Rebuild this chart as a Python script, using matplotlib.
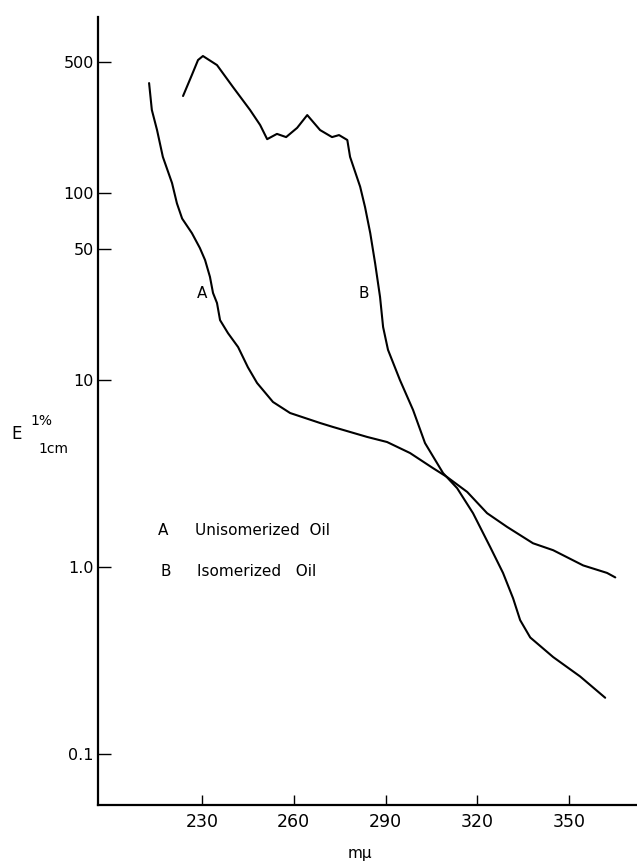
import matplotlib
matplotlib.use("Agg")
import matplotlib.pyplot as plt

# Curve A: Unisomerized oil
wl_a = [212.7, 213.6, 215.3, 217.2, 220.2, 221.8, 223.5, 226.7, 229.3, 231.0, 232.6,
        233.6, 234.9, 235.9, 238.5, 241.8, 245.0, 248.0, 253.2, 258.8, 268.6, 272.8,
        284.0, 290.5, 298.0, 305.5, 310.1, 316.7, 323.2, 329.7, 338.2, 344.8, 354.6,
        362.4, 365.1]
e_a = [387, 278, 217, 156, 113, 88, 73, 61, 50.8, 43.8, 35.6,
       29.2, 25.8, 20.9, 17.8, 15.0, 11.7, 9.64, 7.63, 6.66, 5.89, 5.61,
       4.96, 4.66, 4.07, 3.38, 3.03, 2.52, 1.94, 1.64, 1.34, 1.23, 1.02,
       0.93, 0.88]

# Curve B: Isomerized oil
wl_b = [223.8, 226.7, 228.7, 230.3, 234.9, 240.1, 245.7, 249.0, 251.3, 254.5, 257.5,
        261.1, 264.4, 268.6, 272.5, 274.8, 277.5, 278.4, 281.7, 283.3, 285.0, 286.6,
        288.2, 289.2, 290.8, 294.7, 299.0, 302.9, 308.8, 313.4, 318.6, 324.2, 328.4,
        331.7, 334.0, 337.3, 344.8, 353.6, 361.8]
e_b = [330, 428, 514, 540, 483, 369, 278, 231, 194, 207, 199,
       223, 261, 217, 199, 204, 192, 156, 108, 84, 61, 42,
       27.8, 19.2, 14.5, 10, 6.91, 4.60, 3.18, 2.64, 1.94, 1.28, 0.93,
       0.68, 0.52, 0.42, 0.33, 0.26, 0.20]

y_ticks = [500, 100, 50, 10, 1.0, 0.1]
y_ticklabels = ["500", "100", "50", "10", "1.0", "0.1"]
x_ticks = [230, 260, 290, 320, 350]
x_ticklabels = ["230", "260", "290", "320", "350"]

W, H = 637, 863
fig = plt.figure(figsize=(W / 100, H / 100), dpi=100)
ax = fig.add_axes([98 / W, (H - 805) / H, (W - 98) / W, (805 - 17) / H])

ax.plot(wl_a, e_a, color="black", lw=1.5, solid_capstyle="round")
ax.plot(wl_b, e_b, color="black", lw=1.5, solid_capstyle="round")

ax.set_yscale("log")
ax.set_xlim(196.0, 372.2)
ax.set_ylim(0.0534, 873)

ax.set_yticks(y_ticks)
ax.set_yticklabels(y_ticklabels)
ax.yaxis.set_minor_locator(matplotlib.ticker.NullLocator())
ax.set_xticks(x_ticks)
ax.set_xticklabels(x_ticklabels)

ax.tick_params(axis="y", direction="in", length=9, width=1.0, pad=3, labelsize=11.5)
ax.tick_params(axis="x", direction="in", length=7, width=1.0, pad=6, labelsize=12.5)

for s in ["top", "right"]:
    ax.spines[s].set_visible(False)
for s in ["left", "bottom"]:
    ax.spines[s].set_linewidth(1.6)

# Curve labels
def fx(px):
    return px / W

def fy(py):
    return 1 - py / H

fig.text(fx(202), fy(294), "A", ha="center", va="center", fontsize=11)
fig.text(fx(364), fy(293), "B", ha="center", va="center", fontsize=11)

# Legend text
fig.text(fx(158), fy(530), "A", ha="left", va="center", fontsize=11)
fig.text(fx(195), fy(530), "Unisomerized  Oil", ha="left", va="center", fontsize=11)
fig.text(fx(160), fy(571), "B", ha="left", va="center", fontsize=11)
fig.text(fx(197), fy(571), "Isomerized   Oil", ha="left", va="center", fontsize=11)

# Y-axis label E 1% / 1cm
fig.text(fx(17), fy(434), "E", ha="center", va="center", fontsize=12)
fig.text(fx(30), fy(421), "1%", ha="left", va="center", fontsize=10)
fig.text(fx(38), fy(449), "1cm", ha="left", va="center", fontsize=10)

# X-axis label
fig.text(fx(360), fy(853), "m\u03bc", ha="center", va="center", fontsize=11)

fig.savefig("out.png", dpi=100)
